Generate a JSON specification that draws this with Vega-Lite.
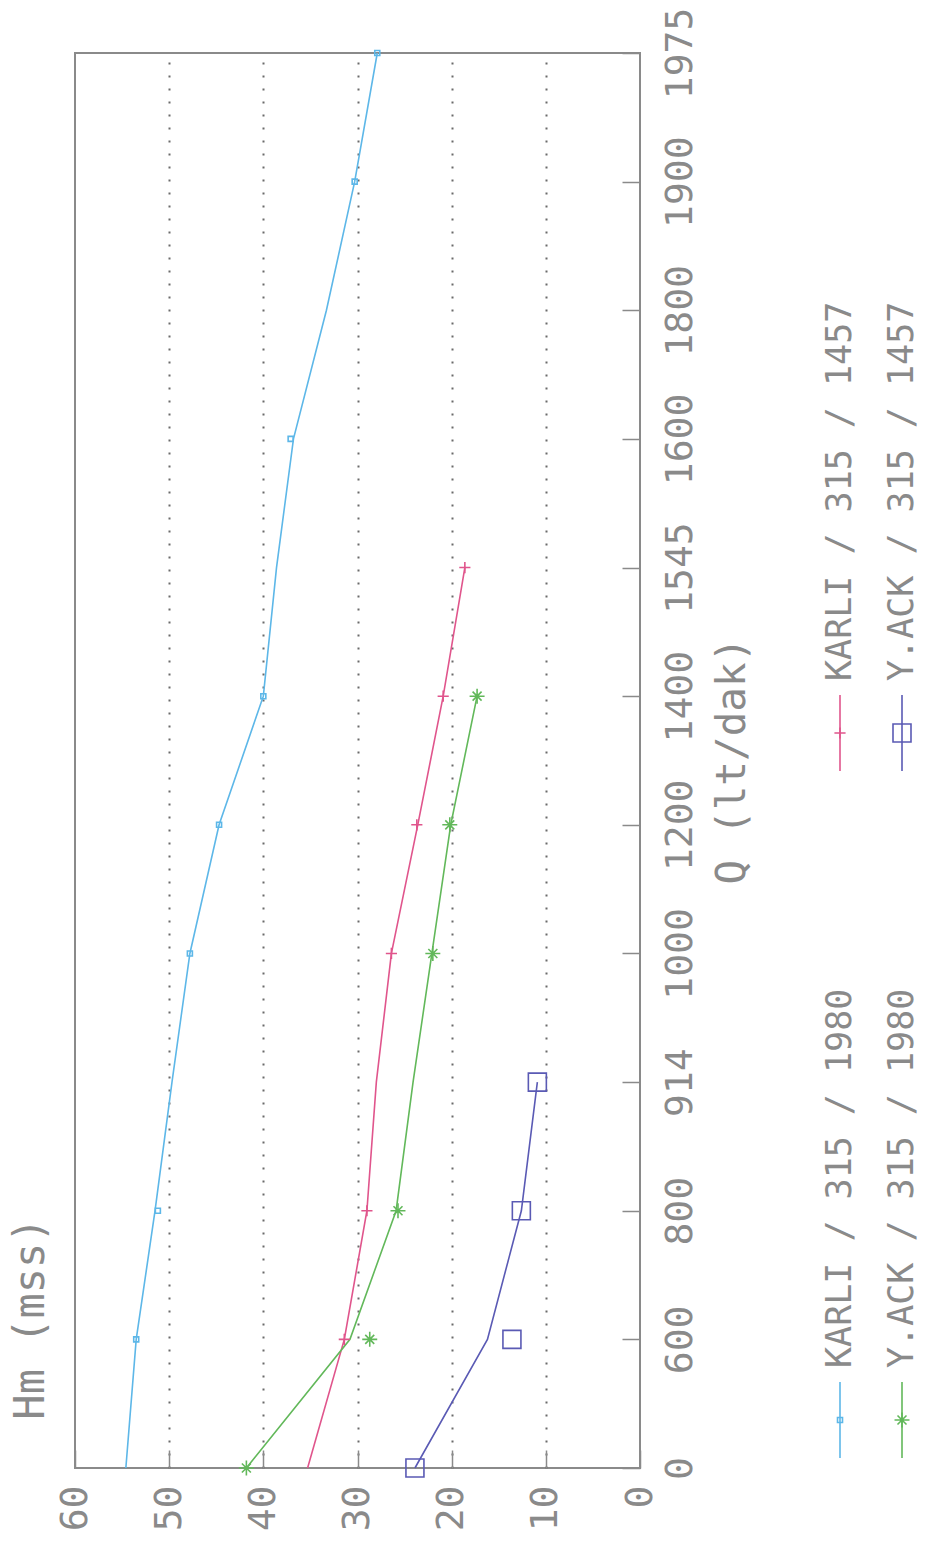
{
  "$schema": "https://vega.github.io/schema/vega-lite/v6.json",
  "width": 565,
  "height": 1415,
  "autosize": {"type": "none"},
  "padding": {"left": 75, "top": 53, "right": 289, "bottom": 74},
  "background": "white",
  "config": {
    "view": {"stroke": "#8a8a8a", "strokeWidth": 2},
    "font": "DejaVu Sans Mono"
  },
  "datasets": {
    "curve": [
      {"series": "KARLI / 315 / 1980", "Q": 0, "Hm": 54.6},
      {"series": "KARLI / 315 / 1980", "Q": 600, "Hm": 53.5},
      {"series": "KARLI / 315 / 1980", "Q": 800, "Hm": 51.5},
      {"series": "KARLI / 315 / 1980", "Q": 914, "Hm": 49.7},
      {"series": "KARLI / 315 / 1980", "Q": 1000, "Hm": 47.8},
      {"series": "KARLI / 315 / 1980", "Q": 1200, "Hm": 44.7},
      {"series": "KARLI / 315 / 1980", "Q": 1400, "Hm": 40.0},
      {"series": "KARLI / 315 / 1980", "Q": 1545, "Hm": 38.6},
      {"series": "KARLI / 315 / 1980", "Q": 1600, "Hm": 36.8},
      {"series": "KARLI / 315 / 1980", "Q": 1800, "Hm": 33.3},
      {"series": "KARLI / 315 / 1980", "Q": 1900, "Hm": 30.3},
      {"series": "KARLI / 315 / 1980", "Q": 1975, "Hm": 27.9},
      {"series": "KARLI / 315 / 1457", "Q": 0, "Hm": 35.3},
      {"series": "KARLI / 315 / 1457", "Q": 600, "Hm": 31.4},
      {"series": "KARLI / 315 / 1457", "Q": 800, "Hm": 29.0},
      {"series": "KARLI / 315 / 1457", "Q": 914, "Hm": 28.0},
      {"series": "KARLI / 315 / 1457", "Q": 1000, "Hm": 26.4},
      {"series": "KARLI / 315 / 1457", "Q": 1200, "Hm": 23.6},
      {"series": "KARLI / 315 / 1457", "Q": 1400, "Hm": 20.9},
      {"series": "KARLI / 315 / 1457", "Q": 1545, "Hm": 18.6},
      {"series": "Y.ACK / 315 / 1980", "Q": 0, "Hm": 41.8},
      {"series": "Y.ACK / 315 / 1980", "Q": 600, "Hm": 30.8},
      {"series": "Y.ACK / 315 / 1980", "Q": 800, "Hm": 25.9},
      {"series": "Y.ACK / 315 / 1980", "Q": 914, "Hm": 24.1},
      {"series": "Y.ACK / 315 / 1980", "Q": 1000, "Hm": 22.1},
      {"series": "Y.ACK / 315 / 1980", "Q": 1200, "Hm": 20.1},
      {"series": "Y.ACK / 315 / 1980", "Q": 1400, "Hm": 17.3},
      {"series": "Y.ACK / 315 / 1457", "Q": 0, "Hm": 23.9},
      {"series": "Y.ACK / 315 / 1457", "Q": 600, "Hm": 16.2},
      {"series": "Y.ACK / 315 / 1457", "Q": 800, "Hm": 12.6},
      {"series": "Y.ACK / 315 / 1457", "Q": 914, "Hm": 10.9}
    ],
    "points": [
      {"series": "KARLI / 315 / 1980", "Q": 600, "Hm": 53.5},
      {"series": "KARLI / 315 / 1980", "Q": 800, "Hm": 51.2},
      {"series": "KARLI / 315 / 1980", "Q": 1000, "Hm": 47.8},
      {"series": "KARLI / 315 / 1980", "Q": 1200, "Hm": 44.7},
      {"series": "KARLI / 315 / 1980", "Q": 1400, "Hm": 40.0},
      {"series": "KARLI / 315 / 1980", "Q": 1600, "Hm": 37.1},
      {"series": "KARLI / 315 / 1980", "Q": 1900, "Hm": 30.3},
      {"series": "KARLI / 315 / 1980", "Q": 1975, "Hm": 27.9},
      {"series": "KARLI / 315 / 1457", "Q": 600, "Hm": 31.4},
      {"series": "KARLI / 315 / 1457", "Q": 800, "Hm": 29.0},
      {"series": "KARLI / 315 / 1457", "Q": 1000, "Hm": 26.4},
      {"series": "KARLI / 315 / 1457", "Q": 1200, "Hm": 23.7},
      {"series": "KARLI / 315 / 1457", "Q": 1400, "Hm": 20.9},
      {"series": "KARLI / 315 / 1457", "Q": 1545, "Hm": 18.6},
      {"series": "Y.ACK / 315 / 1980", "Q": 0, "Hm": 41.8},
      {"series": "Y.ACK / 315 / 1980", "Q": 600, "Hm": 28.7},
      {"series": "Y.ACK / 315 / 1980", "Q": 800, "Hm": 25.7},
      {"series": "Y.ACK / 315 / 1980", "Q": 1000, "Hm": 22.0},
      {"series": "Y.ACK / 315 / 1980", "Q": 1200, "Hm": 20.2},
      {"series": "Y.ACK / 315 / 1980", "Q": 1400, "Hm": 17.3},
      {"series": "Y.ACK / 315 / 1457", "Q": 0, "Hm": 23.9},
      {"series": "Y.ACK / 315 / 1457", "Q": 600, "Hm": 13.6},
      {"series": "Y.ACK / 315 / 1457", "Q": 800, "Hm": 12.6},
      {"series": "Y.ACK / 315 / 1457", "Q": 914, "Hm": 10.9}
    ],
    "legend": [
      {"series": "KARLI / 315 / 1980", "site": "KARLI", "year": "1980"},
      {"series": "KARLI / 315 / 1457", "site": "KARLI", "year": "1457"},
      {"series": "Y.ACK / 315 / 1980", "site": "Y.ACK", "year": "1980"},
      {"series": "Y.ACK / 315 / 1457", "site": "Y.ACK", "year": "1457"}
    ]
  },
  "layer": [
    {
      "encoding": {
        "x": {
          "field": "Hm",
          "type": "quantitative",
          "scale": {"domain": [0, 60], "reverse": true, "nice": false, "zero": false},
          "axis": {
            "values": [0, 10, 20, 30, 40, 50, 60],
            "format": "d",
            "orient": "bottom",
            "domain": false,
            "grid": true,
            "gridColor": "#6a6a6a",
            "gridWidth": 2,
            "gridDash": [2, 11],
            "gridOpacity": {"condition": {"test": "datum.value == 0 || datum.value == 60", "value": 0}, "value": 1},
            "ticks": true,
            "tickSize": -18,
            "tickColor": "#8a8a8a",
            "tickWidth": 1.5,
            "labelAngle": 270,
            "labelAlign": "right",
            "labelBaseline": "middle",
            "labelPadding": 35,
            "labelFont": "DejaVu Sans Mono",
            "labelFontSize": 38,
            "labelColor": "#8a8a8a",
            "labelOverlap": false,
            "labelBound": false,
            "labelFlush": false,
            "title": "Hm (mss)",
            "titleFont": "DejaVu Sans Mono",
            "titleFontSize": 42,
            "titleFontWeight": "normal",
            "titleColor": "#8a8a8a",
            "titleAngle": 270,
            "titleAlign": "center",
            "titleBaseline": "middle",
            "titleX": -45,
            "titleY": -150
          }
        },
        "y": {
          "field": "Q",
          "type": "ordinal",
          "scale": {"type": "point", "padding": 0, "domain": [1975, 1900, 1800, 1600, 1545, 1400, 1200, 1000, 914, 800, 600, 0]},
          "axis": {
            "orient": "right",
            "domain": false,
            "grid": false,
            "ticks": true,
            "tickSize": -18,
            "tickColor": "#8a8a8a",
            "tickWidth": 1.5,
            "labelAngle": 270,
            "labelAlign": "center",
            "labelBaseline": "top",
            "labelPadding": 39,
            "labelFont": "DejaVu Sans Mono",
            "labelFontSize": 38,
            "labelColor": "#8a8a8a",
            "labelOverlap": false,
            "labelBound": false,
            "title": "Q (lt/dak)",
            "titleFont": "DejaVu Sans Mono",
            "titleFontSize": 41,
            "titleFontWeight": "normal",
            "titleColor": "#8a8a8a",
            "titleAngle": 270,
            "titleBaseline": "top",
            "titlePadding": 13
          }
        },
        "color": {
          "field": "series",
          "type": "nominal",
          "scale": {
            "domain": ["KARLI / 315 / 1980", "KARLI / 315 / 1457", "Y.ACK / 315 / 1980", "Y.ACK / 315 / 1457"],
            "range": ["#5db7e8", "#e0558c", "#62b85a", "#5a5ab4"]
          },
          "legend": null
        }
      },
      "layer": [
        {
          "data": {"name": "curve"},
          "mark": {"type": "line", "strokeWidth": 1.6},
          "encoding": {
            "order": {"field": "Q", "type": "quantitative"}
          }
        },
        {
          "data": {"name": "points"},
          "mark": {"type": "point", "filled": false, "strokeWidth": 1.6, "opacity": 1},
          "encoding": {
            "shape": {
              "field": "series",
              "type": "nominal",
              "scale": {
                "domain": ["KARLI / 315 / 1980", "KARLI / 315 / 1457", "Y.ACK / 315 / 1980", "Y.ACK / 315 / 1457"],
                "range": ["square", "M0,-1V1M-1,0H1", "M0,-1V1M-1,0H1M-0.6,-0.6L0.6,0.6M-0.6,0.6L0.6,-0.6", "square"]
              },
              "legend": null
            },
            "size": {
              "field": "series",
              "type": "nominal",
              "scale": {
                "domain": ["KARLI / 315 / 1980", "KARLI / 315 / 1457", "Y.ACK / 315 / 1980", "Y.ACK / 315 / 1457"],
                "range": [25, 324, 256, 169]
              },
              "legend": null
            }
          }
        }
      ]
    },
    {
      "data": {"name": "legend"},
      "encoding": {
        "x": {"field": "site", "type": "nominal", "scale": {"type": "point", "padding": 0, "domain": ["KARLI", "Y.ACK"], "range": [765, 827]}, "axis": null},
        "y": {"field": "year", "type": "nominal", "scale": {"type": "point", "padding": 0, "domain": ["1457", "1980"], "range": [680, 1367]}, "axis": null},
        "color": {
          "field": "series",
          "type": "nominal",
          "scale": {
            "domain": ["KARLI / 315 / 1980", "KARLI / 315 / 1457", "Y.ACK / 315 / 1980", "Y.ACK / 315 / 1457"],
            "range": ["#5db7e8", "#e0558c", "#62b85a", "#5a5ab4"]
          },
          "legend": null
        }
      },
      "layer": [
        {
          "mark": {"type": "rule", "strokeWidth": 1.6, "yOffset": -38, "y2Offset": 38},
          "encoding": {"y2": {"field": "year"}}
        },
        {
          "mark": {"type": "point", "filled": false, "strokeWidth": 1.6, "opacity": 1},
          "encoding": {
            "shape": {
              "field": "series",
              "type": "nominal",
              "scale": {
                "domain": ["KARLI / 315 / 1980", "KARLI / 315 / 1457", "Y.ACK / 315 / 1980", "Y.ACK / 315 / 1457"],
                "range": ["square", "M0,-1V1M-1,0H1", "M0,-1V1M-1,0H1M-0.6,-0.6L0.6,0.6M-0.6,0.6L0.6,-0.6", "square"]
              },
              "legend": null
            },
            "size": {
              "field": "series",
              "type": "nominal",
              "scale": {
                "domain": ["KARLI / 315 / 1980", "KARLI / 315 / 1457", "Y.ACK / 315 / 1980", "Y.ACK / 315 / 1457"],
                "range": [25, 324, 256, 169]
              },
              "legend": null
            }
          }
        },
        {
          "mark": {"type": "text", "angle": 270, "align": "left", "baseline": "middle", "yOffset": -52, "font": "DejaVu Sans Mono", "fontSize": 35, "color": "#8a8a8a"},
          "encoding": {
            "text": {"field": "series", "type": "nominal"},
            "color": {"value": "#8a8a8a"}
          }
        }
      ]
    }
  ],
  "resolve": {"scale": {"x": "independent", "y": "independent"}}
}
